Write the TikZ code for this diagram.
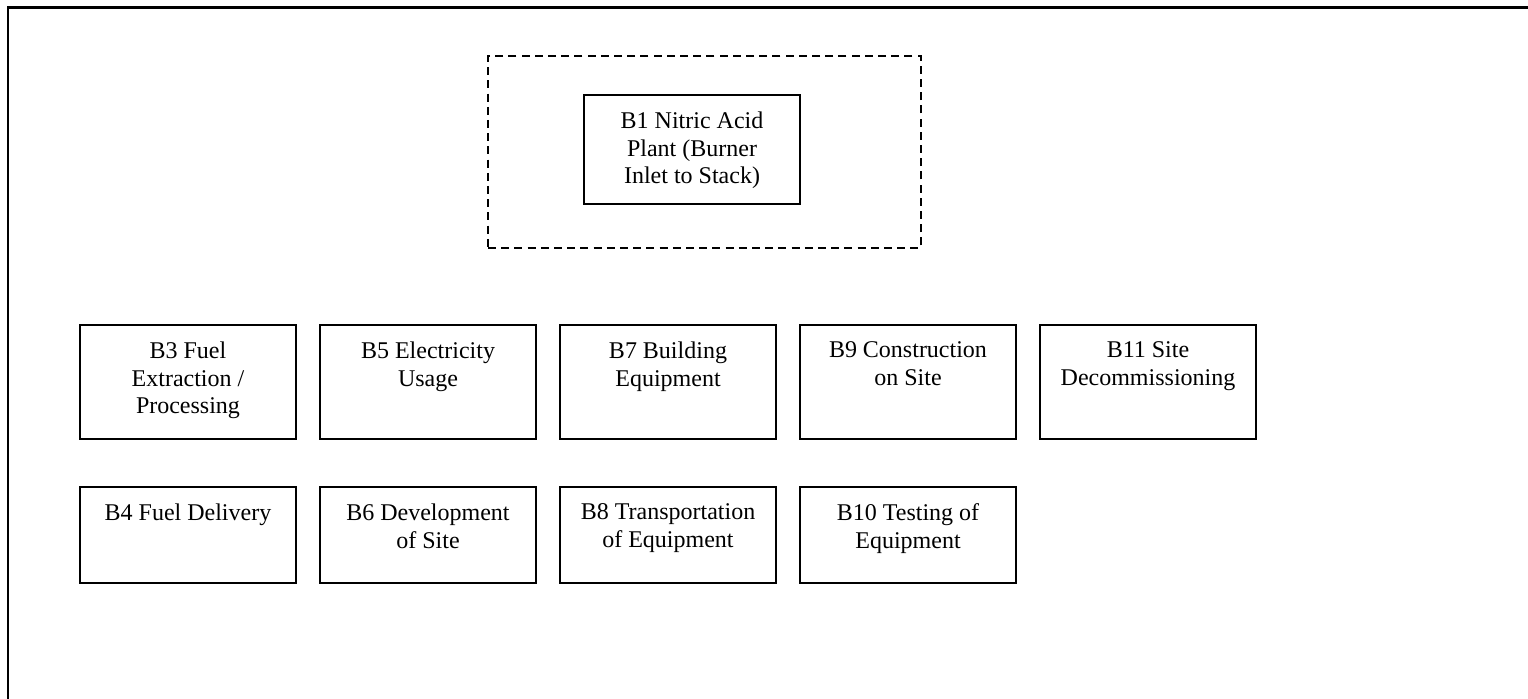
\documentclass[tikz,border=0pt]{standalone}
\usepackage{fontspec}
\setmainfont{Liberation Serif}
\newcommand\bxtext[2]{\parbox[c][#1][t]{108pt}{\fontsize{12pt}{13.9pt}\selectfont\vspace*{8.3pt}\centering #2}}
\tikzset{
  blk/.style={draw, line width=1pt, inner sep=0pt, outer sep=0pt},
  sysbound/.style={draw, dashed, dash pattern=on 4pt off 2.6pt, line width=0.9pt, inner sep=0pt, minimum width=216.5pt, minimum height=96pt},
  frameline/.style={line width=1.3pt}
}
\begin{document}
\begin{tikzpicture}[x=0.5pt, y=-0.5pt]
\useasboundingbox (0,0) rectangle (1528,699);
\draw[frameline] (8,699) -- (8,7.5) -- (1528,7.5);
\node[sysbound] (sys) at (704.5,152) {};
\node[blk] (b1) at (692,149.5) {\bxtext{54.5pt}{B1 Nitric Acid\\Plant (Burner\\Inlet to Stack)}};
\node[blk] (b3) at (188,382) {\bxtext{57pt}{B3 Fuel\\Extraction /\\Processing}};
\node[blk] (b5) at (428,382) {\bxtext{57pt}{B5 Electricity\\Usage}};
\node[blk] (b7) at (668,382) {\bxtext{57pt}{B7 Building\\Equipment}};
\node[blk] (b9) at (908,382) {\bxtext{57pt}{B9 Construction\\on Site}};
\node[blk] (b11) at (1148,382) {\bxtext{57pt}{B11 Site\\Decommissioning}};
\node[blk] (b4) at (188,535) {\bxtext{48pt}{B4 Fuel Delivery}};
\node[blk] (b6) at (428,535) {\bxtext{48pt}{B6 Development\\of Site}};
\node[blk] (b8) at (668,535) {\bxtext{48pt}{B8 Transportation\\of Equipment}};
\node[blk] (b10) at (908,535) {\bxtext{48pt}{B10 Testing of\\Equipment}};
\end{tikzpicture}
\end{document}
